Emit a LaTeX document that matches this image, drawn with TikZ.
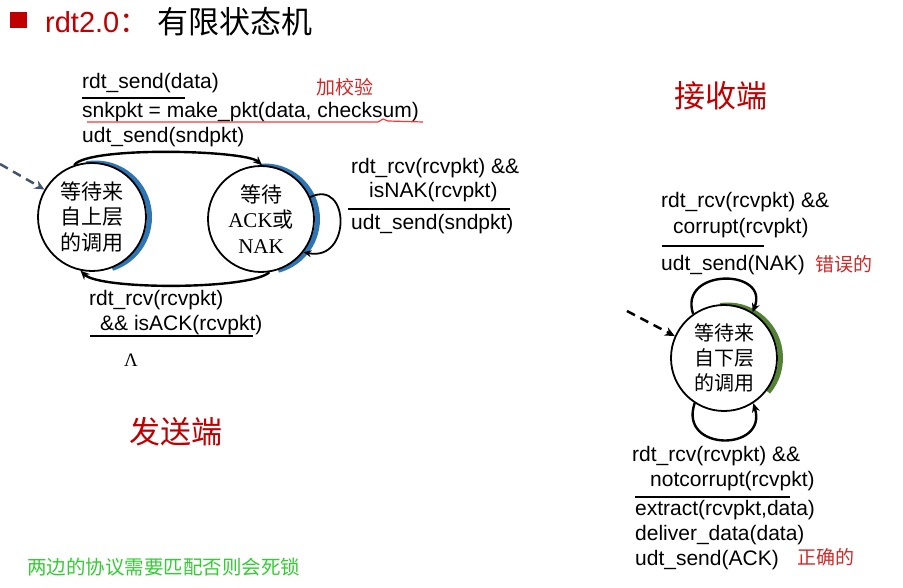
\documentclass[tikz,border=0pt]{standalone}
\usepackage{fontspec}
\setmainfont{Liberation Sans}
\newfontfamily\cjk{Noto Sans CJK SC}
\newfontfamily\tnr{Liberation Serif}
\usetikzlibrary{arrows.meta,backgrounds}
\definecolor{titlered}{HTML}{C00000}
\definecolor{notered}{HTML}{D02828}
\definecolor{noteg}{HTML}{33CC33}
\definecolor{ringblue}{HTML}{2E75B6}
\definecolor{ringgreen}{HTML}{548235}
\definecolor{dashgray}{HTML}{44546A}

\begin{document}
\begin{tikzpicture}[x=1pt,y=-1pt,
  txt/.style={anchor=west,inner sep=0pt,font=\fontsize{21}{25}\selectfont},
  note/.style={anchor=west,inner sep=0pt,text=notered,font=\cjk\fontsize{19}{23}\selectfont},
  side/.style={anchor=west,inner sep=0pt,text=titlered,font=\cjk\fontsize{31}{36}\selectfont},
  state/.style={circle,draw,line width=1.8pt,fill=white,minimum size=106pt,inner sep=0pt,
    align=center,font=\cjk\fontsize{21}{25.5}\selectfont},
  bar/.style={line width=2.8pt},
  trans/.style={line width=2.4pt,-{Stealth[length=9pt,width=8pt]}},
  entry/.style={line width=2.5pt,dash pattern=on 9pt off 6pt,-{Stealth[length=10pt,width=9pt]}},
  ring/.style={line width=5pt}
]
\useasboundingbox (0,0) rectangle (903,588);

% heading
\fill[titlered] (10,12) rectangle (27,28);
\node[anchor=west,inner sep=0pt,text=titlered,font=\fontsize{29}{34}\selectfont] (ttl) at (45,22) {rdt2.0{\cjk ：}};
\node[anchor=west,inner sep=0pt,font=\cjk\fontsize{31}{36}\selectfont] (ttlcn) at (157,22) {有限状态机};

% ---------------- sender ----------------
\node[state,minimum size=108pt] (s1) at (92,217) {等待来\\自上层\\的调用};
\node[state] (s2) at (261,219) {等待\\{\tnr ACK}或\\{\tnr NAK}};

\begin{scope}[on background layer]
  \draw[ringblue,ring] ([xshift=3.5pt]s1.center) ++(100:54pt) arc[start angle=100,end angle=-72,radius=54pt];
  \draw[ringblue,ring] ([xshift=3.5pt]s2.center) ++(95:53pt) arc[start angle=95,end angle=-75,radius=53pt];
\end{scope}

\coordinate (in1) at (0,164);
\draw[entry,dashgray] (in1) -- (s1.150);

\draw[trans] (s1.109) .. controls (88,146) and (245,150) .. (s2.89);
\draw[trans] (s2.-81) .. controls (250,290) and (100,290) .. (s1.-102);
\draw[line width=1.8pt,-{Stealth[length=8pt,width=7pt]}] (s2.24) .. controls (350,178) and (352,262) .. (s2.-38);

\node[txt] (sendev) at (82,83) {rdt\_send(data)};
\draw[bar] (82,98) -- (185,98);
\node[txt] (mkpkt) at (82,112) {snkpkt = make\_pkt(data, checksum)};
\draw[red!80!white,line width=1.2pt] (87,122) -- (378,122) -- (383,119) -- (388,121) -- (423,122);
\node[txt] (sendact) at (82,137) {udt\_send(sndpkt)};
\node[note] (addchk) at (316,87) {加校验};

\node[txt] (nakev1) at (351,168) {rdt\_rcv(rcvpkt) \&\&};
\node[txt] (nakev2) at (369,192) {isNAK(rcvpkt)};
\draw[bar] (348,209) -- (510,209);
\node[txt] (nakact) at (351,224) {udt\_send(sndpkt)};

\node[txt] (ackev1) at (89,300) {rdt\_rcv(rcvpkt)};
\node[txt] (ackev2) at (100,325) {\&\& isACK(rcvpkt)};
\draw[bar] (90,336) -- (253,336);
\node[anchor=west,inner sep=0pt,font=\tnr\fontsize{19}{22}\selectfont] (lam) at (124,360) {Λ};

\node[side] (sndr) at (129,432) {发送端};

% ---------------- receiver ----------------
\node[side] (rcvr) at (674,96) {接收端};

\node[state,font=\cjk\fontsize{20}{25}\selectfont] (s3) at (724,358) {等待来\\自下层\\的调用};
\begin{scope}[on background layer]
  \draw[ringgreen,ring] ([xshift=3.5pt]s3.center) ++(98:53pt) arc[start angle=98,end angle=-40,radius=53pt];
\end{scope}

\coordinate (in2) at (627,311);
\draw[entry,black] (in2) -- (s3.156);

\draw[trans] (s3.125) .. controls (678,268) and (770,268) .. (s3.58);
\draw[trans] (s3.-123) .. controls (678,452) and (768,452) .. (s3.-57);

\node[txt] (corev1) at (661,202) {rdt\_rcv(rcvpkt) \&\&};
\node[txt] (corev2) at (673,228) {corrupt(rcvpkt)};
\draw[bar] (662,246) -- (764,246);
\node[txt] (coract) at (661,265) {udt\_send(NAK)};
\node[note] (errnote) at (815,264) {错误的};

\node[txt] (okev1) at (632,456) {rdt\_rcv(rcvpkt) \&\&};
\node[txt] (okev2) at (650,481) {notcorrupt(rcvpkt)};
\draw[bar] (635,497) -- (790,497);
\node[txt] (okact1) at (635,510) {extract(rcvpkt,data)};
\node[txt] (okact2) at (635,535) {deliver\_data(data)};
\node[txt] (okact3) at (635,560) {udt\_send(ACK)};
\node[note] (oknote) at (797,557) {正确的};

\node[anchor=west,inner sep=0pt,text=noteg,font=\cjk\fontsize{19.5}{23}\selectfont] (warn) at (27,567) {两边的协议需要匹配否则会死锁};
\end{tikzpicture}
\end{document}
